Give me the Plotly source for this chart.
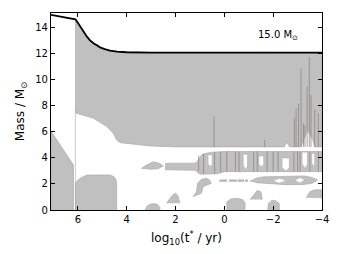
import plotly.graph_objects as go

# ---- total mass track ----
mass_t = [7.1, 6.1, 6.0, 5.9, 5.75, 5.63, 5.5, 5.36, 5.2, 5.09, 4.9, 4.68, 4.4, 4.0, 3.0, 2.0, 0.0, -2.0, -4.0]
mass_m = [15.0, 14.67, 14.4, 14.1, 13.7, 13.33, 13.05, 12.82, 12.64, 12.51, 12.37, 12.26, 12.18, 12.13, 12.1, 12.1, 12.1, 12.1, 12.1]

# ---- convective envelope lower boundary ----
env_bot_t = [6.1, 6.07, 5.36, 4.81, 4.55, 4.41, 4.27, 3.86, 3.05, 2.0, 1.0, -1.0, -2.45, -2.55, -2.68, -3.14, -3.41, -3.62, -3.7, -4.0]
env_bot_m = [7.7, 7.44, 7.05, 6.41, 5.9, 5.38, 5.18, 5.13, 4.92, 4.85, 4.82, 4.85, 4.85, 5.2, 4.85, 4.85, 6.15, 5.4, 4.85, 4.85]

# ---- other convective zones (time, mass) ----
pre_t = [7.1, 7.1, 6.72, 6.18, 6.18]
pre_m = [0.0, 6.05, 5.0, 3.46, 0.0]

core_t = [6.1, 6.1, 6.0, 5.85, 5.63, 5.2, 4.7, 4.55, 4.45, 4.41, 4.41]
core_m = [0.0, 2.05, 2.3, 2.5, 2.69, 2.72, 2.7, 2.6, 2.4, 2.05, 0.0]

tear_t = [3.39, 3.2, 2.91, 2.7, 2.5, 2.7, 3.0, 3.39]
tear_m = [3.21, 3.45, 3.72, 3.62, 3.41, 3.18, 3.13, 3.21]

band_t = [2.43, 2.3, 1.2, 1.1, 0.95, 0.9, 0.5, 0.0, -4.0, -4.0, 0.0, 0.3, 1.0, 1.2, 2.43]
band_m = [3.55, 3.6, 3.6, 3.75, 4.2, 4.3, 4.45, 4.5, 4.5, 2.95, 2.95, 2.78, 2.75, 3.05, 3.1]

dog_t = [1.28, 1.14, 1.1, 0.94, 0.73, 0.6, 0.53, 0.67, 0.87, 0.94, 1.28]
dog_m = [1.02, 1.4, 2.05, 2.36, 2.44, 2.3, 2.05, 1.92, 1.79, 1.28, 1.02]

tri_t = [2.37, 2.15, 2.0, 1.9, 1.82]
tri_m = [0.52, 1.1, 1.3, 1.1, 0.52]

long_t = [-1.04, -1.3, -1.6, -2.5, -3.3, -3.6, -3.82, -3.6, -3.2, -2.5, -1.8, -1.3]
long_m = [2.2, 2.45, 2.55, 2.6, 2.62, 2.5, 2.3, 2.05, 1.95, 1.95, 2.05, 2.1]

small_t = [-1.05, -1.35, -1.5, -1.55]
small_m = [0.8, 1.5, 1.4, 0.8]

rblob_t = [-3.35, -3.5, -3.7, -4.0, -4.0]
rblob_m = [0.95, 1.4, 1.55, 1.55, 0.9]

bot1_t = [3.25, 3.15, 2.95, 2.75, 2.64, 2.64]
bot1_m = [0.0, 0.35, 0.5, 0.45, 0.2, 0.0]

bot2_t = [-0.1, -0.1, -0.25, -0.5, -0.75, -0.85, -0.85]
bot2_m = [0.0, 0.6, 0.85, 0.9, 0.8, 0.55, 0.0]

bot3_t = [-1.78, -1.8, -1.95, -2.1, -2.25, -2.25]
bot3_m = [0.0, 0.5, 0.75, 0.72, 0.5, 0.0]

# thin dashes at ~2.25 Msun
dash_l = [0.2, -0.2, -0.55, -0.85]
dash_r = [-0.1, -0.5, -0.8, -0.95]
dash_lo = [2.2, 2.2, 2.2, 2.2]
dash_hi = [2.32, 2.32, 2.32, 2.32]

# radiative gaps (white) inside the band
gap_l = [0.65, -0.79, -1.43, -2.38, -3.2, -3.6]
gap_r = [0.5, -0.95, -1.61, -2.66, -3.4, -3.7]
gap_hi = [4.2, 4.23, 4.1, 3.95, 4.4, 4.3]
gap_lo = [3.3, 3.1, 3.3, 3.0, 3.2, 3.3]
# holes in elongated blob
hole_l = [-2.0, -2.9]
hole_r = [-2.55, -3.3]
hole_hi = [2.44, 2.5]
hole_lo = [2.08, 2.1]

# thin boundary streaks
streak_t = [0.42, -1.65, -2.87, -2.94, -3.04, -3.14, -3.24, -3.3, -3.39, -3.48, -3.55, -3.7, -3.85]
streak_top = [7.2, 5.38, 7.05, 7.8, 8.2, 10.85, 6.67, 6.5, 9.5, 11.75, 8.85, 7.7, 7.4]
streak_bot = [4.82, 4.85, 4.85, 4.85, 4.85, 4.85, 4.85, 4.85, 4.85, 4.85, 4.85, 4.85, 4.85]
bstreak_t = [1.05, 0.85, 0.4, 0.15, -0.1, -0.45, -0.6, -1.2, -1.35, -1.75, -2.0, -2.2, -2.85, -3.0, -3.1, -3.5, -3.85]
bstreak_top = [4.2, 4.3, 4.45, 4.5, 4.5, 4.5, 4.5, 4.5, 4.5, 4.5, 4.5, 4.5, 4.5, 4.5, 4.5, 4.5, 4.5]
bstreak_bot = [3.0, 2.8, 2.78, 2.9, 2.95, 2.95, 2.95, 2.95, 2.95, 2.95, 2.95, 2.95, 2.95, 2.95, 2.95, 2.95, 2.95]

GREY = "#c0c0c0"
EDGE = "#a6a6a6"
STREAK = "#8e8585"

fig = go.Figure()

def poly(t, m, fill=GREY, edge=EDGE, w=0.6):
    fig.add_trace(go.Scatter(x=t, y=m, mode="lines", fill="toself", fillcolor=fill,
                             line=dict(color=edge, width=w), hoverinfo="skip", showlegend=False))

# envelope polygon: top follows total mass from t<=6.1
top_t = [t for t in mass_t if t <= 6.1]
top_m = [m for t, m in zip(mass_t, mass_m) if t <= 6.1]
poly(top_t + env_bot_t[::-1], top_m + env_bot_m[::-1])

for t, m in [(pre_t, pre_m), (core_t, core_m), (tear_t, tear_m), (band_t, band_m),
             (dog_t, dog_m), (tri_t, tri_m), (long_t, long_m), (small_t, small_m),
             (rblob_t, rblob_m), (bot1_t, bot1_m), (bot2_t, bot2_m), (bot3_t, bot3_m)]:
    poly(t, m)

for l, r, lo, hi in zip(dash_l, dash_r, dash_lo, dash_hi):
    poly([l, r, r, l], [lo, lo, hi, hi])

def ugap(l, r, lo, hi):
    mid = (l + r) / 2
    d = (hi - lo) * 0.25
    poly([l, r, r, mid, l], [hi + 0.05, hi + 0.05, lo + d, lo, lo + d], fill="white", edge=EDGE, w=0.5)

for l, r, lo, hi in zip(gap_l, gap_r, gap_lo, gap_hi):
    ugap(l, r, lo, hi)
for l, r, lo, hi in zip(hole_l, hole_r, hole_lo, hole_hi):
    poly([l, (l + r) / 2, r, (l + r) / 2], [(lo + hi) / 2, hi, (lo + hi) / 2, lo], fill="white", edge=EDGE, w=0.5)

# streak lines
sx, sy = [], []
for t, a, b in zip(streak_t + bstreak_t, streak_bot + bstreak_bot, streak_top + bstreak_top):
    sx += [t, t, None]
    sy += [a, b, None]
fig.add_trace(go.Scatter(x=sx, y=sy, mode="lines", line=dict(color=STREAK, width=0.8),
                         hoverinfo="skip", showlegend=False))

# vertical thin line at start of envelope
fig.add_trace(go.Scatter(x=[6.1, 6.1], y=[0, 14.67], mode="lines", line=dict(color=EDGE, width=0.6),
                         hoverinfo="skip", showlegend=False))

# total mass
fig.add_trace(go.Scatter(x=mass_t, y=mass_m, mode="lines", line=dict(color="black", width=1.8),
                         hoverinfo="skip", showlegend=False))

fig.add_annotation(x=-3.1, y=13.45, xref="x", yref="y", text="15.0 M<sub>⊙</sub>",
                   showarrow=False, xanchor="right", yanchor="middle",
                   font=dict(family="DejaVu Sans", size=10, color="black"))

axis_common = dict(showline=True, linecolor="black", linewidth=1.2, mirror="ticks",
                   ticks="inside", ticklen=4, tickwidth=1, tickcolor="black",
                   showgrid=False, zeroline=False,
                   tickfont=dict(family="DejaVu Sans", size=10, color="black"))

# page body has an 8px default margin, margins below compensate for it
fig.update_layout(
    width=339, height=254,
    margin=dict(l=43, r=25, t=5, b=52),
    paper_bgcolor="white", plot_bgcolor="white",
    xaxis=dict(range=[7.1, -4.0], tickvals=[6, 4, 2, 0, -2, -4],
               ticktext=["6", "4", "2", "0", "\u22122", "\u22124"],
               title=dict(text="log<sub>10</sub>(t<sup>*</sup> / yr)", standoff=9,
                          font=dict(family="DejaVu Sans", size=12, color="black")),
               **axis_common),
    yaxis=dict(range=[0, 15.15], tickvals=[0, 2, 4, 6, 8, 10, 12, 14],
               title=dict(text="Mass / M<sub>⊙</sub>", standoff=7,
                          font=dict(family="DejaVu Sans", size=12, color="black")),
               **axis_common),
)

fig.write_html("out.html")
